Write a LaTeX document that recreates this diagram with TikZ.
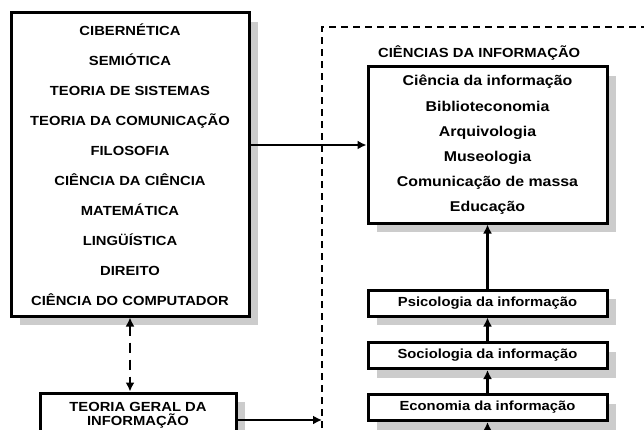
\documentclass[tikz,border=0pt]{standalone}
\usepackage{fontspec}
\setmainfont{Liberation Sans}[FakeStretch=1.12]
\usetikzlibrary{arrows.meta,shadows}

\tikzset{
	box/.style={draw,line width=3pt,fill=white,inner sep=0pt,align=center,
		drop shadow={shadow xshift=9pt,shadow yshift=-9pt,fill=gray!40,opacity=1}},
	conn/.style={line width=2.7pt},
	caps/.style={font=\fontsize{13.2}{30}\selectfont\bfseries},
}

\begin{document}
\begin{tikzpicture}[>={Latex[length=9pt,width=9pt]},x=1pt,y=-1pt]

\path[use as bounding box,clip] (0,0) rectangle (644,430);

\coordinate (fr) at (322,27);
\coordinate (below) at (487.5,440);

\node[box,caps,minimum width=238,minimum height=303] (lists) at (130,164.5) {%
	CIBERNÉTICA\\SEMIÓTICA\\TEORIA DE SISTEMAS\\TEORIA DA COMUNICAÇÃO\\FILOSOFIA\\%
	CIÊNCIA DA CIÊNCIA\\MATEMÁTICA\\LINGÜÍSTICA\\DIREITO\\CIÊNCIA DO COMPUTADOR};

\node[box,font=\fontsize{13.2}{14}\selectfont\bfseries,minimum width=196,minimum height=44] (tgi) at (138,415)
	{TEORIA GERAL DA\\INFORMAÇÃO};

% frame
\draw[line width=2.8pt,dash pattern=on 7pt off 5pt] (322,440)--(fr)--(650,27);
\node[caps,anchor=west,inner sep=0pt] (lblci) at (378,53) {CIÊNCIAS DA INFORMAÇÃO};

\node[box,font=\fontsize{14.2}{25.2}\selectfont\bfseries,minimum width=239,minimum height=156] (ci) at (487.5,145) {%
	Ciência da informação\\Biblioteconomia\\Arquivologia\\Museologia\\Comunicação de massa\\Educação};

\foreach \n/\y/\t in {psi/303/Psicologia,soc/355.5/Sociologia,eco/407.5/Economia}{
	\node[box,font=\fontsize{13.2}{16}\selectfont\bfseries,minimum width=239,minimum height=26] (\n) at (487.5,\y) {\t{} da informação};
}

\draw[conn,->] (lists.east |- ci.west)--(ci.west);
\draw[conn,<->,dash pattern=on 10pt off 7pt] (lists.south)--(lists.south |- tgi.north);
\draw[conn,->] ([yshift=-5pt]tgi.east)--([yshift=-5pt]tgi.east -| fr);

\foreach \a/\b in {eco/soc,soc/psi,psi/ci}{
	\draw[conn,->] (\a.north)--(\b.south);
}
\draw[conn,->] (below)--(eco.south);

\end{tikzpicture}
\end{document}
